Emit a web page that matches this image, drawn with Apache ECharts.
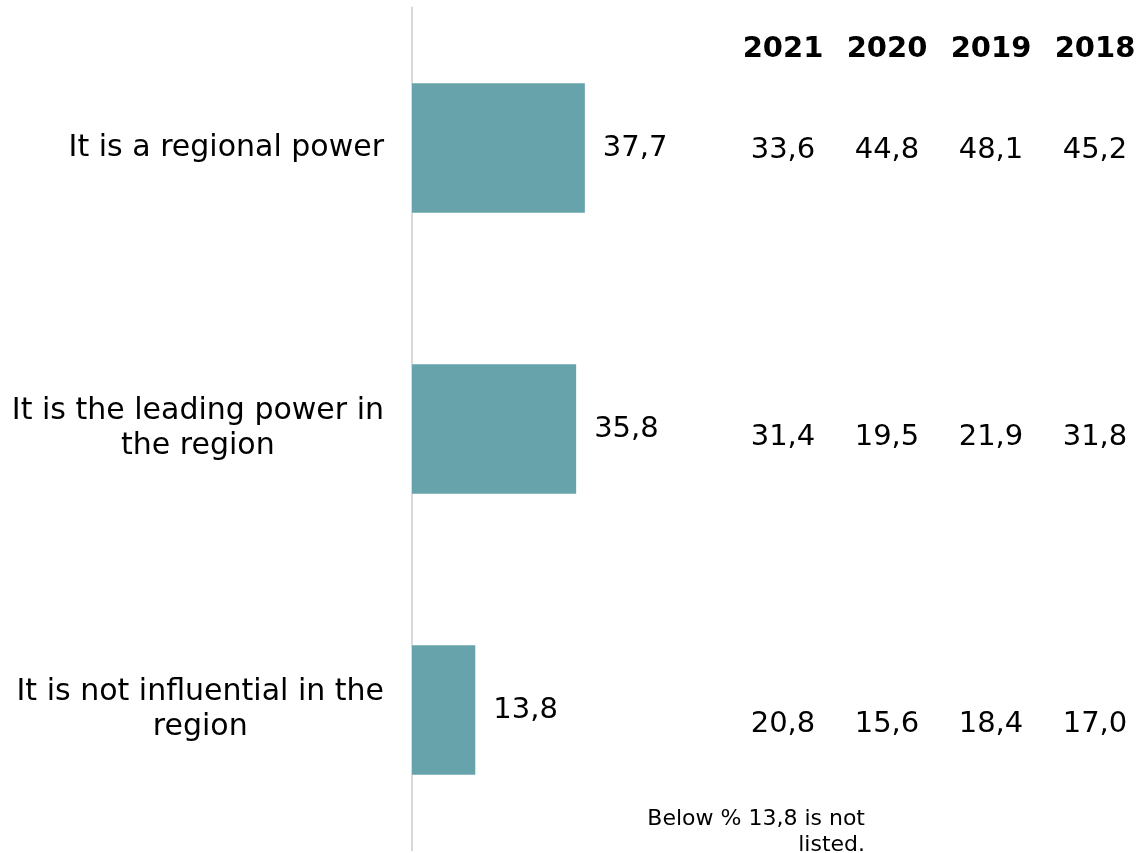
<!DOCTYPE html>
<html>
<head>
<meta charset="utf-8">
<script src="https://cdn.jsdelivr.net/npm/echarts@6/dist/echarts.min.js"></script>
<style>
html,body{margin:0;padding:0;background:#fff;}
#chart{width:1143px;height:853px;}
</style>
</head>
<body>
<div id="chart"></div>
<script>
const categories = ['It is a regional power', 'It is the leading power in\nthe region', 'It is not influential in the\nregion'];
const values2022 = [37.7, 35.8, 13.8];
const years = ['2021', '2020', '2019', '2018'];
const values2021 = [33.6, 31.4, 20.8];
const values2020 = [44.8, 19.5, 15.6];
const values2019 = [48.1, 21.9, 18.4];
const values2018 = [45.2, 31.8, 17.0];
const footnote = 'Below % 13,8 is not\nlisted.';

const FONT = 'DejaVu Sans';
const fmt = v => v.toFixed(1).replace('.', ',');
const yearValues = [values2021, values2020, values2019, values2018];

const tableSeries = years.map((yr, yi) => ({
  type: 'scatter',
  xAxisIndex: 1,
  yAxisIndex: 1,
  symbolSize: 0,
  silent: true,
  itemStyle: { opacity: 1 },
  data: yearValues[yi].map((v, ci) => [yr, ci, v]),
  label: {
    show: true,
    position: 'inside',
    formatter: p => fmt(p.value[2]),
    fontFamily: FONT,
    fontSize: 29,
    color: '#000',
    opacity: 1
  }
}));

const chart = echarts.init(document.getElementById('chart'));
chart.setOption({
  animation: false,
  title: {
    text: footnote,
    left: 860,
    top: 801,
    textAlign: 'right',
    textStyle: { fontFamily: FONT, fontSize: 22, lineHeight: 26, fontWeight: 'normal', color: '#000' }
  },
  grid: [
    { left: 412, top: 7.5, width: 458.5, height: 843 },
    { left: 783, right: 48, top: 150, bottom: 129 }
  ],
  xAxis: [
    { gridIndex: 0, type: 'value', min: 0, max: 100, show: false },
    {
      gridIndex: 1, type: 'category', data: years, position: 'top', boundaryGap: false,
      axisLine: { show: false }, axisTick: { show: false }, splitLine: { show: false },
      axisLabel: { interval: 0, hideOverlap: false, margin: 101, verticalAlign: 'middle', fontFamily: FONT, fontSize: 29, fontWeight: 'bold', color: '#000' }
    }
  ],
  yAxis: [
    {
      gridIndex: 0, type: 'category', data: categories, inverse: true,
      axisLine: { lineStyle: { color: '#d9d9d9', width: 2 } },
      axisTick: { show: false },
      axisLabel: {
        interval: 0,
        margin: 28,
        formatter: v => v.split('\n').map(s => '{a|' + s + '}').join('\n'),
        rich: { a: { fontFamily: FONT, fontSize: 30, lineHeight: 35, align: 'center', color: '#000' } }
      }
    },
    {
      gridIndex: 1, type: 'category', data: categories, inverse: true, boundaryGap: false, show: false
    }
  ],
  series: [
    {
      type: 'bar',
      xAxisIndex: 0,
      yAxisIndex: 0,
      data: values2022,
      barWidth: '46%',
      itemStyle: { color: '#66A3AA' },
      label: {
        show: true,
        position: 'right',
        distance: 18,
        formatter: p => fmt(p.value),
        fontFamily: FONT,
        fontSize: 29,
        color: '#000'
      }
    }
  ].concat(tableSeries)
});
</script>
</body>
</html>
